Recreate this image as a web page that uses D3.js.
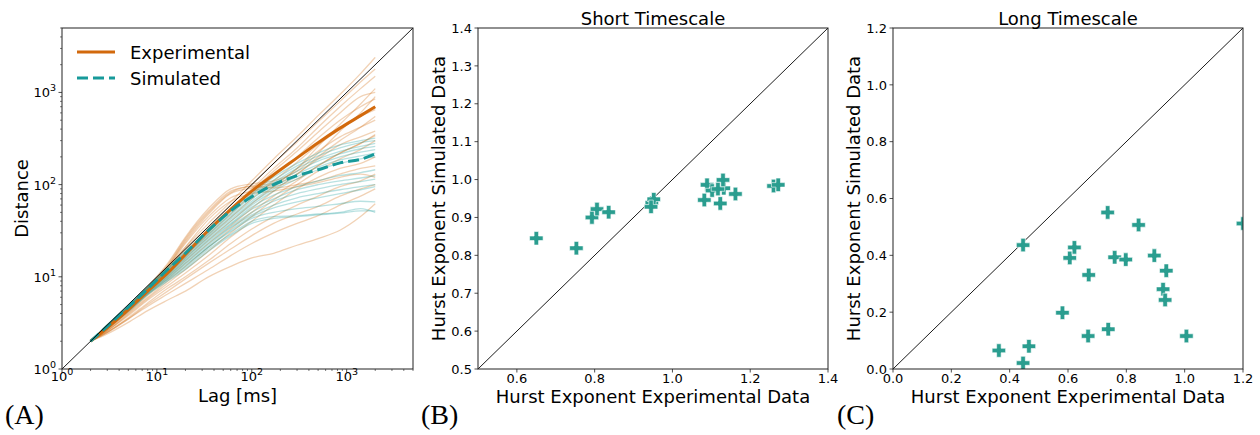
<!DOCTYPE html>
<html><head><meta charset="utf-8">
<script src="https://cdn.jsdelivr.net/npm/d3@7/dist/d3.min.js"></script>
<style>
body{margin:0;background:#fff}
svg{display:block}
text{font-family:"DejaVu Sans",sans-serif;fill:#000}
</style>
</head><body>
<svg id="chart" width="1260" height="435"></svg>
<script>
// ---------------- DATA ----------------
const LAGS = [2,3,5,8,13,20,35,60,100,170,300,500,850,1400,2000];
const EXP_MEAN = [2,2.8,4.4,7,11,17.5,32,54,85,128,195,285,410,560,700];
const SIM_MEAN = [2,2.9,4.7,7.4,12,18,32,52,74,100,125,145,172,188,215];
const EXP_RUNS = [
  [2,3,4.8,7.8,14,27,55,90,102,110,140,220,380,600,900],
  [2,3,4.7,7.6,13.5,26,52,85,97,104,150,260,450,750,1100],
  [2,2.9,4.6,7.4,13,24,48,80,92,100,130,200,300,420,550],
  [2,2.9,4.6,7.4,12.5,23,45,72,85,95,115,160,220,280,350],
  [2,2.9,4.6,7.5,13,25,50,82,95,92,100,110,130,150,160],
  [2,2.9,4.5,7.2,12,21,42,66,80,85,95,105,120,130,120],
  [2,2.9,4.8,7.8,13,21,38,65,110,190,330,560,950,1600,2400],
  [2,2.9,4.7,7.6,12.5,20,35,60,100,170,290,480,800,1300,1800],
  [2,2.8,4.6,7.4,12,19,33,55,90,150,250,420,700,1100,1500],
  [2,2.8,4.5,7.2,11.5,18,31,52,85,140,230,370,600,900,1000],
  [2,2.8,4.4,7,11,17,29,48,78,125,200,320,500,700,850],
  [2,2.7,4.3,6.8,10.5,16,27,44,70,110,175,270,400,550,650],
  [2,2.7,4.2,6.5,10,15,25,40,62,95,150,230,330,420,500],
  [2,2.7,4.1,6.3,9.5,14,23,36,55,85,130,190,270,330,380],
  [2,2.6,4,6,9,13,21,33,50,75,110,160,220,280,340],
  [2,2.6,3.9,5.8,8.5,12,19,30,45,68,100,140,190,240,300],
  [2,2.6,3.8,5.6,8,11,17,27,40,60,90,120,150,170,200],
  [2,2.5,3.6,5.2,7.5,10,15,23,33,45,60,75,95,110,130],
  [2,2.5,3.5,5,7,9.5,14,20,28,38,48,58,75,90,100],
  [2,2.5,3.5,4.8,6.5,8.5,12,17,23,30,38,46,60,75,90],
  [2,2.4,3.2,4.3,5.6,7,10,13,16,18,22,26,32,45,62]
];
const SIM_RUNS = [
  [2,3,4.9,7.8,12.5,19,32,52,80,120,170,220,270,300,320],
  [2,3,4.9,7.7,12.3,18.5,31,50,77,112,160,205,250,285,300],
  [2,3,4.8,7.6,12,18,30,48,74,105,150,190,230,260,280],
  [2,3,4.8,7.5,11.8,17.5,29,46,70,100,140,180,215,245,260],
  [2,2.9,4.7,7.4,11.5,17,28,44,66,95,130,165,200,225,240],
  [2,2.9,4.7,7.3,11.3,16.5,27,42,63,90,122,155,185,205,220],
  [2,2.9,4.6,7.2,11,16,26,40,60,85,115,145,170,190,200],
  [2,2.9,4.6,7.1,10.8,15.5,25,38,57,77,95,110,125,135,145],
  [2,2.9,4.5,7,10.5,15,24,37,54,70,88,100,110,118,125],
  [2,2.9,4.5,6.9,10.3,14.5,23,35,50,66,80,90,100,108,115],
  [2,2.8,4.4,6.8,10,14,22,34,47,60,72,80,88,95,100],
  [2,2.8,4.4,6.7,9.8,13.5,21,32,45,56,65,72,80,88,95],
  [2,2.8,4.3,6.6,9.5,13,21,31,43,50,55,58,62,66,65],
  [2,2.8,4.3,6.5,9.3,12.5,20,29,40,45,46,48,50,55,50],
  [2,2.8,4.2,6.4,9,12,19,28,38,43,45,47,49,52,52]
];
const SHORT_EXP = [0.65,0.753,0.793,0.806,0.836,0.947,0.952,0.945,1.082,1.089,1.102,1.132,1.123,1.162,1.117,1.130,1.260,1.272];
const SHORT_SIM = [0.845,0.819,0.900,0.922,0.914,0.939,0.948,0.928,0.946,0.986,0.971,0.977,0.937,0.962,0.975,0.999,0.983,0.986];
const LONG_EXP = [0.363,0.446,0.466,0.446,0.581,0.606,0.622,0.671,0.669,0.736,0.738,0.760,0.798,0.842,0.896,0.937,0.926,0.933,1.006,1.2];
const LONG_SIM = [0.065,0.021,0.080,0.436,0.198,0.391,0.428,0.331,0.116,0.551,0.140,0.393,0.385,0.507,0.399,0.346,0.281,0.243,0.116,0.512];
const LOG_TICKS = [1,10,100,1000];
const LOG_TICK_EXP = ["0","1","2","3"];
const SHORT_XTICKS = [0.6,0.8,1.0,1.2,1.4];
const SHORT_YTICKS = [0.5,0.6,0.7,0.8,0.9,1.0,1.1,1.2,1.3,1.4];
const LONG_TICKS = [0,0.2,0.4,0.6,0.8,1.0,1.2];

// ---------------- STYLE ----------------
const ORANGE = "#d2690c";
const TEAL = "#179a9a";
const MARK = "#2a9d8f";
const TOP = 28, BOT = 369;
const svg = d3.select("#chart");

function frame(x0, x1) {
  svg.append("rect").attr("x", x0).attr("y", TOP).attr("width", x1 - x0).attr("height", BOT - TOP)
    .attr("fill", "none").attr("stroke", "#222").attr("stroke-width", 1);
}

// ---------------- PANEL A ----------------
const xA = d3.scaleLog().domain([1, 5000]).range([62, 413]);
const yA = d3.scaleLog().domain([1, 5000]).range([BOT, TOP]);
svg.append("clipPath").attr("id", "clipA").append("rect")
  .attr("x", 62).attr("y", TOP).attr("width", 351).attr("height", BOT - TOP);
const gA = svg.append("g").attr("clip-path", "url(#clipA)");
const lineA = d3.line().x((d, i) => xA(LAGS[i])).y(d => yA(d)).curve(d3.curveMonotoneX);

EXP_RUNS.forEach(r => gA.append("path").attr("d", lineA(r)).attr("fill", "none")
  .attr("stroke", ORANGE).attr("stroke-opacity", 0.3).attr("stroke-width", 1.3));
SIM_RUNS.forEach(r => gA.append("path").attr("d", lineA(r)).attr("fill", "none")
  .attr("stroke", TEAL).attr("stroke-opacity", 0.3).attr("stroke-width", 1.3));
gA.append("path").attr("d", lineA(EXP_MEAN)).attr("fill", "none")
  .attr("stroke", ORANGE).attr("stroke-width", 3);
gA.append("path").attr("d", lineA(SIM_MEAN)).attr("fill", "none")
  .attr("stroke", TEAL).attr("stroke-width", 3).attr("stroke-dasharray", "11,5");
gA.append("line").attr("x1", xA(1)).attr("y1", yA(1)).attr("x2", xA(5000)).attr("y2", yA(5000))
  .attr("stroke", "#000").attr("stroke-width", 0.9);
frame(62, 413);

// log ticks
const minorA = [];
for (let e = 0; e < 4; e++) for (let m = 2; m <= 9; m++) { const v = m * Math.pow(10, e); if (v <= 5000) minorA.push(v); }
minorA.forEach(v => {
  svg.append("line").attr("x1", xA(v)).attr("x2", xA(v)).attr("y1", BOT).attr("y2", BOT + 2)
    .attr("stroke", "#222").attr("stroke-width", 0.6);
  svg.append("line").attr("y1", yA(v)).attr("y2", yA(v)).attr("x1", 62).attr("x2", 60)
    .attr("stroke", "#222").attr("stroke-width", 0.6);
});
LOG_TICKS.forEach((v, i) => {
  svg.append("line").attr("x1", xA(v)).attr("x2", xA(v)).attr("y1", BOT).attr("y2", BOT + 3.5)
    .attr("stroke", "#222").attr("stroke-width", 0.8);
  svg.append("line").attr("y1", yA(v)).attr("y2", yA(v)).attr("x1", 62).attr("x2", 58.5)
    .attr("stroke", "#222").attr("stroke-width", 0.8);
  const tx = svg.append("text").attr("x", xA(v)).attr("y", 381).attr("text-anchor", "middle")
    .attr("font-size", 13);
  tx.append("tspan").text("10");
  tx.append("tspan").attr("dy", -6).attr("font-size", 9.5).text(LOG_TICK_EXP[i]);
  const ty = svg.append("text").attr("x", 56).attr("y", yA(v) + 5).attr("text-anchor", "end")
    .attr("font-size", 13);
  ty.append("tspan").text("10");
  ty.append("tspan").attr("dy", -6).attr("font-size", 9.5).text(LOG_TICK_EXP[i]);
});
svg.append("text").attr("x", 237.5).attr("y", 402).attr("text-anchor", "middle").attr("font-size", 18).text("Lag [ms]");
svg.append("text").attr("transform", "translate(28,198.5) rotate(-90)").attr("text-anchor", "middle")
  .attr("font-size", 18).text("Distance");

// legend
svg.append("line").attr("x1", 77).attr("x2", 115).attr("y1", 52).attr("y2", 52).attr("stroke", ORANGE).attr("stroke-width", 3);
svg.append("line").attr("x1", 77).attr("x2", 115).attr("y1", 78).attr("y2", 78).attr("stroke", TEAL).attr("stroke-width", 3).attr("stroke-dasharray", "11,5");
svg.append("text").attr("x", 130).attr("y", 58.5).attr("font-size", 18).text("Experimental");
svg.append("text").attr("x", 130).attr("y", 84.5).attr("font-size", 18).text("Simulated");

// ---------------- SCATTER PANELS ----------------
function plusPath(s) {
  const h = s / 2, w = s / 6;
  return `M${-w},${-h}L${w},${-h}L${w},${-w}L${h},${-w}L${h},${w}L${w},${w}L${w},${h}L${-w},${h}L${-w},${w}L${-h},${w}L${-h},${-w}L${-w},${-w}Z`;
}
function scatterPanel(id, x0, x1, dom, xticks, yticks, xs, ys, title) {
  const x = d3.scaleLinear().domain(dom).range([x0, x1]);
  const y = d3.scaleLinear().domain(dom).range([BOT, TOP]);
  svg.append("clipPath").attr("id", id).append("rect")
    .attr("x", x0).attr("y", TOP).attr("width", x1 - x0).attr("height", BOT - TOP);
  const g = svg.append("g").attr("clip-path", `url(#${id})`);
  g.append("line").attr("x1", x(dom[0])).attr("y1", y(dom[0])).attr("x2", x(dom[1])).attr("y2", y(dom[1]))
    .attr("stroke", "#000").attr("stroke-width", 0.9);
  xs.forEach((v, i) => g.append("path").attr("d", plusPath(13.5))
    .attr("transform", `translate(${x(v)},${y(ys[i])})`)
    .attr("fill", MARK).attr("stroke", "#fff").attr("stroke-width", 0.6));
  frame(x0, x1);
  xticks.forEach(v => {
    svg.append("line").attr("x1", x(v)).attr("x2", x(v)).attr("y1", BOT).attr("y2", BOT + 3.5)
      .attr("stroke", "#222").attr("stroke-width", 0.8);
    svg.append("text").attr("x", x(v)).attr("y", 383).attr("text-anchor", "middle").attr("font-size", 13)
      .text(d3.format(".1f")(v));
  });
  yticks.forEach(v => {
    svg.append("line").attr("y1", y(v)).attr("y2", y(v)).attr("x1", x0).attr("x2", x0 - 3.5)
      .attr("stroke", "#222").attr("stroke-width", 0.8);
    svg.append("text").attr("x", x0 - 6).attr("y", y(v) + 4.7).attr("text-anchor", "end").attr("font-size", 13)
      .text(d3.format(".1f")(v));
  });
  const cx = (x0 + x1) / 2;
  svg.append("text").attr("x", cx).attr("y", 24.5).attr("text-anchor", "middle").attr("font-size", 18).text(title);
  svg.append("text").attr("x", cx).attr("y", 403).attr("text-anchor", "middle").attr("font-size", 18)
    .text("Hurst Exponent Experimental Data");
  svg.append("text").attr("transform", `translate(${x0 - 33},198.5) rotate(-90)`).attr("text-anchor", "middle")
    .attr("font-size", 18).text("Hurst Exponent Simulated Data");
}
scatterPanel("clipB", 478, 828, [0.5, 1.4], SHORT_XTICKS, SHORT_YTICKS, SHORT_EXP, SHORT_SIM, "Short Timescale");
scatterPanel("clipC", 893, 1243, [0, 1.2], LONG_TICKS, LONG_TICKS, LONG_EXP, LONG_SIM, "Long Timescale");

// panel labels
[["(A)", 5], ["(B)", 421], ["(C)", 837]].forEach(([t, x]) =>
  svg.append("text").attr("x", x).attr("y", 424).attr("font-family", "'Liberation Serif',serif")
    .style("font-family", "'Liberation Serif',serif").attr("font-size", 28).text(t));
</script>
</body></html>
